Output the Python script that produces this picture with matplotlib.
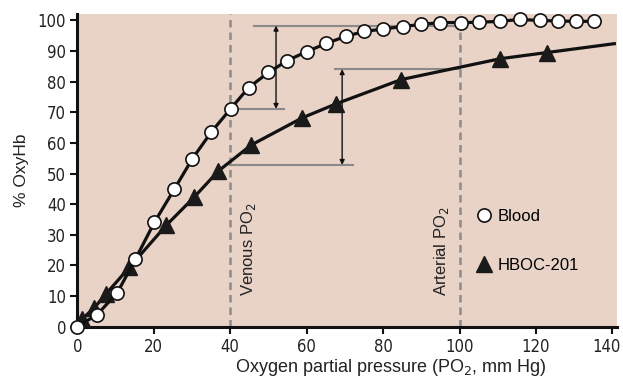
import matplotlib
matplotlib.use('Agg')
import matplotlib.pyplot as plt
from matplotlib import font_manager
from matplotlib.transforms import ScaledTranslation

# Blood (circles)
blood_x = [0, 5.2, 10.5, 15.2, 20.2, 25.4, 30.1, 35.1, 40.1, 44.8, 50, 55, 60, 65.2,
           70.2, 75.1, 80.1, 85.1, 90, 95, 100.5, 105.2, 110.5, 115.7, 121, 125.7, 130.6, 135.3]
blood_y = [0, 3.9, 11.1, 22, 34.1, 44.9, 54.8, 63.6, 71.1, 78, 83, 86.9, 89.8, 92.5,
           94.8, 96.4, 97.2, 98, 98.7, 99.3, 99.3, 99.4, 99.7, 100.3, 100, 99.8, 99.7, 99.7]

# HBOC-201 (triangles)
hboc_x = [1.3, 4.5, 7.6, 13.6, 23.3, 30.6, 36.9, 45.5, 58.9, 67.8, 84.8, 110.7, 122.8]
hboc_y = [2.5, 6.2, 10.8, 19.3, 33.1, 42.3, 50.8, 59.3, 68.2, 72.8, 80.7, 87.5, 89.5]
# curve (starts at origin, runs past the last point to 140)
hboc_line_x = [0] + hboc_x + [140.5]
hboc_line_y = [0] + hboc_y + [92.4]

venous_po2 = 40
arterial_po2 = 100
blood_ven, blood_art = 71.1, 98.3
hboc_ven, hboc_art = 52.8, 84.1

plt.rcParams['font.family'] = ['Liberation Sans', 'DejaVu Sans']


def narrow_font():
    # tick labels in the original are condensed; use one if it is installed
    for fam, stretch in [('Liberation Sans Narrow', 'normal'), ('DejaVu Sans', 'condensed')]:
        try:
            path = font_manager.findfont(font_manager.FontProperties(family=fam, stretch=stretch),
                                         fallback_to_default=False)
        except Exception:
            continue
        if 'Narrow' in path or 'Condensed' in path:
            return font_manager.FontProperties(fname=path)
    return None


fig = plt.figure(figsize=(6.23, 3.78), dpi=100)
ax = fig.add_axes([0.124, 0.136, 0.867, 0.827])
ax.set_facecolor('#E9D2C6')

ax.set_xlim(0, 141.3)
ax.set_ylim(0, 102.1)

# reference lines
for xv in [venous_po2, arterial_po2]:
    ax.axvline(xv, color='#8c8c8c', ls=(0, (3, 2)), lw=1.8, zorder=1)
ax.text(venous_po2 + 2.4, 10, 'Venous PO$_2$', rotation=90, ha='left', va='bottom',
        fontsize=12, color='#222222')
ax.text(arterial_po2 - 2.2, 10, 'Arterial PO$_2$', rotation=90, ha='right', va='bottom',
        fontsize=12, color='#222222')

gray = '#8a8a8a'
ax.plot([46.3, arterial_po2], [blood_art, blood_art], color=gray, lw=1.5, zorder=2)
ax.plot([venous_po2, 54], [blood_ven, blood_ven], color=gray, lw=1.5, zorder=2)
ax.plot([venous_po2, 72.2], [hboc_ven, hboc_ven], color=gray, lw=1.5, zorder=2)
ax.plot([67.4, arterial_po2], [hboc_art, hboc_art], color=gray, lw=1.5, zorder=2)

ax.annotate('', xy=(52, blood_ven), xytext=(52, blood_art),
            arrowprops=dict(arrowstyle='<|-|>', color='#111111', lw=1.0,
                            mutation_scale=7, shrinkA=0, shrinkB=0), zorder=3)
ax.annotate('', xy=(69.3, hboc_ven), xytext=(69.3, hboc_art),
            arrowprops=dict(arrowstyle='<|-|>', color='#111111', lw=1.0,
                            mutation_scale=7, shrinkA=0, shrinkB=0), zorder=3)

# curves
ax.plot(hboc_line_x, hboc_line_y, color='#111111', lw=2.3, zorder=4, clip_on=False)
ax.plot(hboc_x, hboc_y, ls='none', marker='^', ms=11, color='#1a1a1a',
        label='HBOC-201', zorder=5, clip_on=False)
ax.plot(blood_x, blood_y, color='#111111', lw=2.3, zorder=6, clip_on=False)
ax.plot(blood_x, blood_y, ls='none', marker='o', ms=9.5, mfc='white', mec='#111111',
        mew=1.2, label='Blood', zorder=7, clip_on=False)

h, l = ax.get_legend_handles_labels()
ax.legend(h[::-1], l[::-1], loc='upper left', bbox_to_anchor=(104.1, 38.3),
          bbox_transform=ax.transData, frameon=False, fontsize=12,
          handlelength=1.0, handletextpad=0.35, labelspacing=2.0, borderpad=0,
          borderaxespad=0, numpoints=1)

for s in ['top', 'right']:
    ax.spines[s].set_visible(False)
for s in ['left', 'bottom']:
    ax.spines[s].set_linewidth(2.2)
    ax.spines[s].set_color('#111111')

ax.set_xticks(range(0, 141, 20))
ax.set_yticks(range(0, 101, 10))
ax.tick_params(direction='out', length=5, width=1.5, color='#111111', pad=3,
               labelsize=12, labelcolor='#222222')

fp = narrow_font()
if fp is not None:
    for t in ax.get_xticklabels() + ax.get_yticklabels():
        t.set_fontproperties(fp)
        t.set_fontsize(12)
# keep the last x label inside the figure
last = ax.get_xticklabels()[-1]
last.set_transform(last.get_transform() + ScaledTranslation(-4 / 72, 0, fig.dpi_scale_trans))

ax.set_xlabel('Oxygen partial pressure (PO$_2$, mm Hg)', fontsize=13, color='#222222',
              labelpad=1)
ax.xaxis.set_label_coords(0.58, -0.098)
ax.set_ylabel('% OxyHb', fontsize=12.5, color='#222222', labelpad=6)

fig.savefig('out.png', dpi=100)
